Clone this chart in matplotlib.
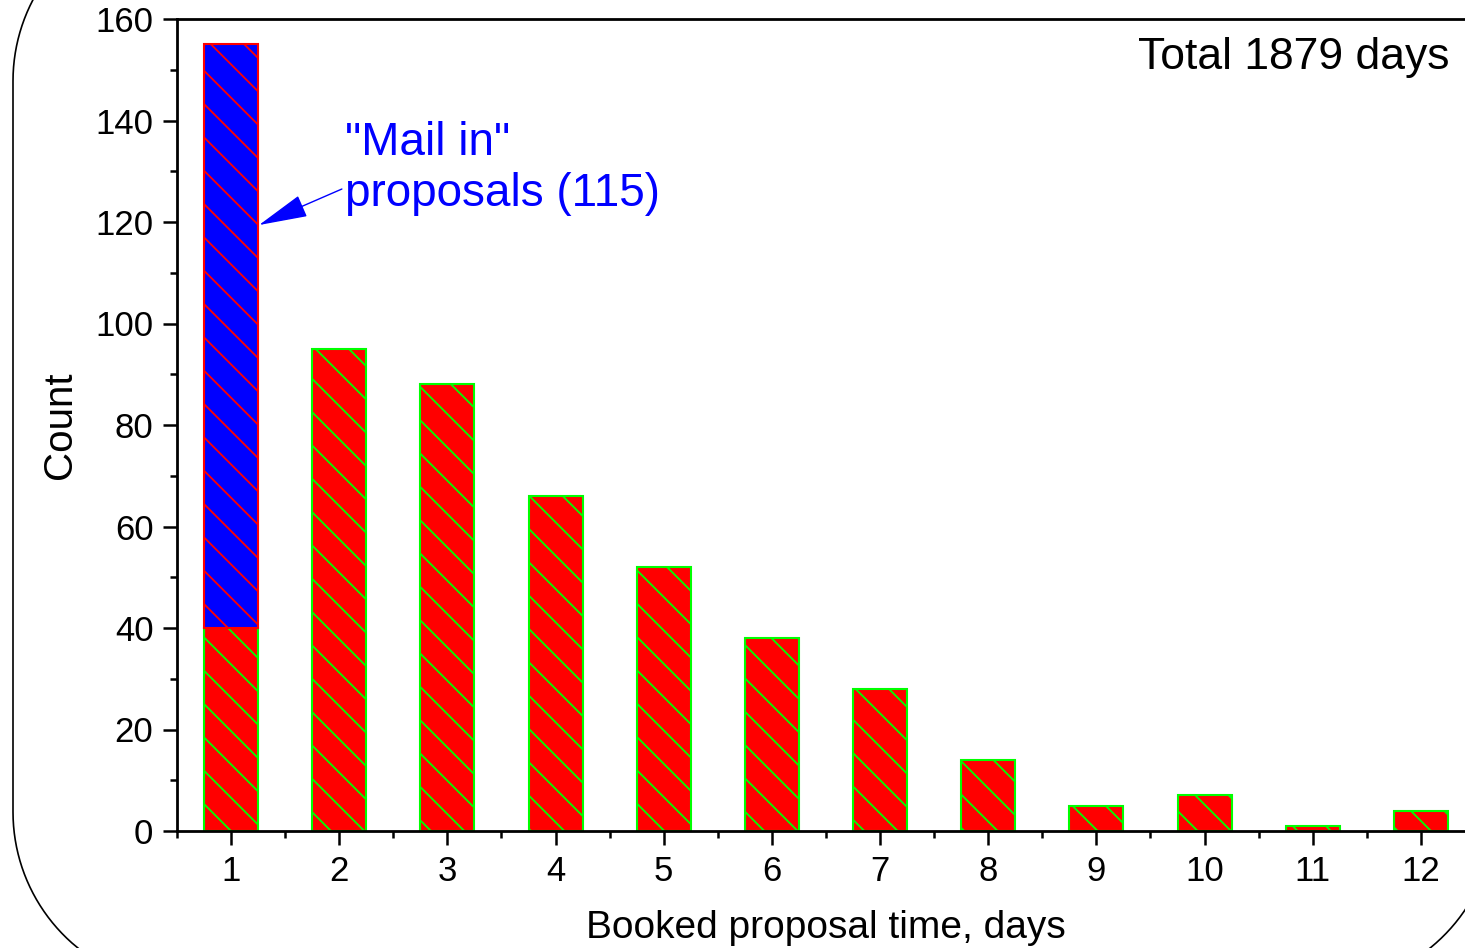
import matplotlib
matplotlib.use("Agg")
import numpy as np
import matplotlib.pyplot as plt
from matplotlib.ticker import MultipleLocator

days = [1, 2, 3, 4, 5, 6, 7, 8, 9, 10, 11, 12]
counts = [40, 95, 88, 66, 52, 38, 28, 14, 5, 7, 1, 4]
mail_in = [115, 0, 0, 0, 0, 0, 0, 0, 0, 0, 0, 0]
yticks = [0, 20, 40, 60, 80, 100, 120, 140, 160]

plt.rcParams['font.family'] = ['Liberation Sans', 'DejaVu Sans']
plt.rcParams['hatch.linewidth'] = 1.3

W, H = 1465, 948
fig = plt.figure(figsize=(W / 100, H / 100), dpi=100)

# background rounded frame (pixel coordinates, y downward)
bg = fig.add_axes([0, 0, 1, 1], zorder=-5)
bg.set_xlim(0, W)
bg.set_ylim(H, 0)
bg.axis('off')
x0, x1, y0, y1, r = 13, 1495, -94, 987, 175
xs, ys = [], []
for (cx, cy, a0) in [(x0 + r, y0 + r, 90), (x0 + r, y1 - r, 180),
                     (x1 - r, y1 - r, 270), (x1 - r, y0 + r, 360)]:
    t = np.radians(np.linspace(a0, a0 + 90, 40))
    xs.extend(cx + r * np.cos(t))
    ys.extend(cy - r * np.sin(t))
xs.append(xs[0]); ys.append(ys[0])
bg.plot(xs, ys, color='black', lw=1.2, clip_on=False)

ax = fig.add_axes([177 / W, (H - 831) / H, 1298 / W, 812 / H])
ax.patch.set_alpha(0)

ax.bar(days, counts, width=0.5, color='#ff0000', edgecolor='#00ff00',
       linewidth=1.5, hatch='\\', zorder=2)
ax.bar(days[:1], mail_in[:1], bottom=counts[:1], width=0.5, color='#0000ff',
       edgecolor='#ff0000', linewidth=1.5, hatch='\\', zorder=2)

ax.set_xlim(0.5, 12.5)
ax.set_ylim(0, 160)
ax.set_xticks(days)
ax.set_yticks(yticks)
ax.xaxis.set_minor_locator(MultipleLocator(0.5))
ax.yaxis.set_minor_locator(MultipleLocator(10))
ax.tick_params(which='major', direction='out', length=10, width=1.8,
               labelsize=25, pad=7)
ax.tick_params(which='minor', direction='out', length=5, width=1.8)
for s in ax.spines.values():
    s.set_linewidth(2.0)

ax.set_xlabel('Booked proposal time, days', fontsize=28, labelpad=16)
ax.set_ylabel('Count', fontsize=29, labelpad=12)

ax.text(12.265, 152.5, 'Total 1879 days', fontsize=32, ha='right', va='center')
ax.annotate('"Mail in"\nproposals (115)', xy=(1.258, 119.4),
            xytext=(2.05, 130.5), fontsize=33, color='#0000ff',
            ha='left', va='center', linespacing=1.22,
            arrowprops=dict(arrowstyle='-|>,head_length=0.95,head_width=0.22',
                            color='#0000ff', lw=1.0,
                            shrinkA=0, shrinkB=0,
                            relpos=(0.0, 0.3)))

fig.savefig('out.png', dpi=100)
